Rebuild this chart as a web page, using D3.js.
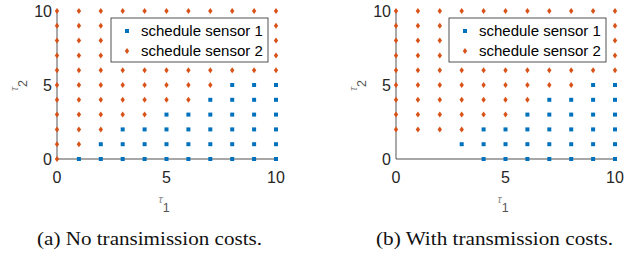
<!DOCTYPE html>
<html>
<head>
<meta charset="utf-8">
<script src="https://cdn.jsdelivr.net/npm/d3@7"></script>
<style>
  body { margin: 0; background: #fff; }
  svg text { font-family: "Liberation Sans", Arial, sans-serif; }
  .caption { font-family: "Liberation Serif", "Times New Roman", serif; font-size: 19px; fill: #111; }
</style>
</head>
<body>
<div id="chart"></div>
<script>
// grid values
var tau1 = [0, 1, 2, 3, 4, 5, 6, 7, 8, 9, 10];
var tau2 = [0, 1, 2, 3, 4, 5, 6, 7, 8, 9, 10];
var ticks = [0, 5, 10];

// per tau2 row: first tau1 that has a marker, first tau1 scheduled to sensor 1 (11 = never)
var leftStart  = [0, 0, 0, 0, 0, 0, 0, 0, 0, 0, 0];
var leftSwitch = [1, 2, 3, 5, 7, 8, 11, 11, 11, 11, 11];
var rightStart  = [4, 3, 0, 0, 0, 0, 0, 0, 0, 0, 0];
var rightSwitch = [4, 3, 4, 6, 7, 9, 11, 11, 11, 11, 11];

var legendLabels = ["schedule sensor 1", "schedule sensor 2"];
var captions = ["(a) No transimission costs.", "(b) With transmission costs."];

var blue = "#0072BD", orange = "#D95319";

var svg = d3.select("#chart").append("svg")
    .attr("width", 634)
    .attr("height", 259);

var panels = [
  { x0: 57, start: leftStart, sw: leftSwitch, caption: captions[0], capX: 37, capW: 225, legendX: 111 },
  { x0: 396, start: rightStart, sw: rightSwitch, caption: captions[1], capX: 376, capW: 237, legendX: 449 }
];

var plotW = 219, plotTop = 11, plotBottom = 159;

function diamond(g, cx, cy) {
  g.append("path")
    .attr("d", "M" + cx + "," + (cy - 3) + "L" + (cx + 2.2) + "," + cy + "L" + cx + "," + (cy + 3) + "L" + (cx - 2.2) + "," + cy + "Z")
    .attr("fill", orange);
}

panels.forEach(function(p) {
  var x = d3.scaleLinear().domain([0, 10]).range([p.x0, p.x0 + plotW]);
  var y = d3.scaleLinear().domain([0, 10]).range([plotBottom, plotTop]);
  var g = svg.append("g");

  // axes lines
  g.append("line").attr("x1", x(0)).attr("x2", x(10)).attr("y1", y(0)).attr("y2", y(0))
    .attr("stroke", "#8a8a8a").attr("stroke-width", 1.5);
  g.append("line").attr("x1", x(0)).attr("x2", x(0)).attr("y1", y(0)).attr("y2", y(10))
    .attr("stroke", "#555").attr("stroke-width", 1);

  // tick labels
  g.selectAll(".xt").data(ticks).enter().append("text")
    .attr("x", function(d) { return x(d); })
    .attr("y", plotBottom + 24)
    .attr("text-anchor", "middle")
    .attr("font-size", 16)
    .attr("fill", "#262626")
    .text(function(d) { return d; });
  g.selectAll(".yt").data(ticks).enter().append("text")
    .attr("x", x(0) - 5)
    .attr("y", function(d) { return y(d) + 6; })
    .attr("text-anchor", "end")
    .attr("font-size", 16)
    .attr("fill", "#262626")
    .text(function(d) { return d; });

  // markers
  tau2.forEach(function(t2, i) {
    tau1.forEach(function(t1) {
      if (t1 < p.start[i]) return;
      if (t1 >= p.sw[i]) {
        g.append("rect").attr("x", x(t1) - 2).attr("y", y(t2) - 2)
          .attr("width", 4).attr("height", 4).attr("fill", blue);
      } else {
        diamond(g, x(t1), y(t2));
      }
    });
  });

  // axis labels
  var xl = g.append("text").attr("x", x(5) - 8).attr("y", 203)
    .attr("font-size", 11).attr("fill", "#8a8a8a").attr("font-style", "italic");
  xl.append("tspan").text("\u03C4");
  xl.append("tspan").attr("dy", 9).attr("font-size", 12.5).attr("font-style", "normal").attr("fill", "#555").text("1");

  var yl = g.append("text").attr("transform", "translate(" + (x(0) - 39) + "," + (y(5) + 6) + ") rotate(-90)")
    .attr("font-size", 11).attr("fill", "#8a8a8a").attr("font-style", "italic");
  yl.append("tspan").text("\u03C4");
  yl.append("tspan").attr("dy", 9).attr("font-size", 12.5).attr("font-style", "normal").attr("fill", "#555").text("2");

  // legend
  var lg = g.append("g").attr("transform", "translate(" + p.legendX + ",18)");
  lg.append("rect").attr("width", 157).attr("height", 44)
    .attr("fill", "#fff").attr("stroke", "#262626").attr("stroke-width", 0.8);
  lg.append("rect").attr("x", 14).attr("y", 11).attr("width", 4).attr("height", 4).attr("fill", blue);
  diamond(lg, 16, 33);
  lg.selectAll(".lt").data(legendLabels).enter().append("text")
    .attr("x", 30)
    .attr("y", function(d, i) { return 18 + i * 20; })
    .attr("font-size", 15)
    .attr("fill", "#000")
    .text(function(d) { return d; });

  // caption
  svg.append("text").attr("class", "caption")
    .attr("x", p.capX).attr("y", 245)
    .attr("textLength", p.capW)
    .attr("lengthAdjust", "spacingAndGlyphs")
    .text(p.caption);
});
</script>
</body>
</html>
